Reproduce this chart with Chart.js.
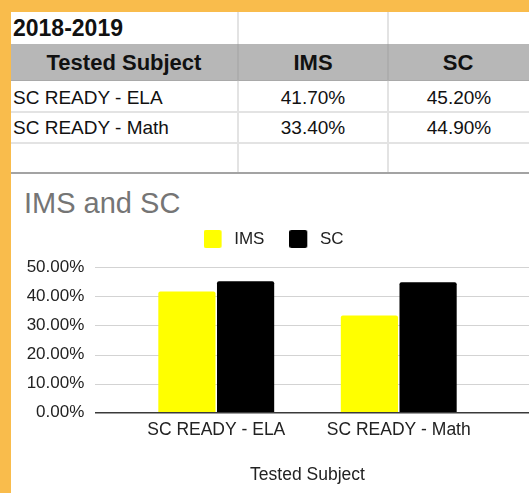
<!DOCTYPE html>
<html><head><meta charset="utf-8">
<script src="https://cdn.jsdelivr.net/npm/chart.js@4.4.1/dist/chart.umd.min.js"></script>
<style>
html,body{margin:0;padding:0;}
body{width:529px;height:493px;background:#F9BC4C;position:relative;overflow:hidden;font-family:"Liberation Sans",Arial,sans-serif;}
#sheet{position:absolute;left:11px;top:12px;width:518px;height:481px;background:#fff;overflow:hidden;}
.b{position:absolute;}
.t{position:absolute;white-space:nowrap;color:#111;}
#title{position:absolute;left:13px;top:177px;font-size:29px;line-height:29px;color:#757575;white-space:nowrap;}
#chart{position:absolute;left:0;top:162px;}
</style>
</head><body>
<div id="sheet">
  <div id="title"></div>
  <canvas id="chart" width="518" height="319"></canvas>
</div>
<script>
// ---- data ----
const tableTitle = '2018-2019';
const tableHeader = ['Tested Subject', 'IMS', 'SC'];
const categories = ['SC READY - ELA', 'SC READY - Math'];
const seriesNames = ['IMS', 'SC'];
const seriesColors = ['#ffff00', '#000000'];
const imsValues = [41.7, 33.4];
const scValues = [45.2, 44.9];
const yTicks = [0, 10, 20, 30, 40, 50];
const chartTitle = 'IMS and SC';
const xAxisTitle = 'Tested Subject';

const FONT = "'Liberation Sans', Arial, sans-serif";
const fmt = v => Number(v).toFixed(2) + '%';

// ---- spreadsheet table (coords relative to #sheet) ----
const sheet = document.getElementById('sheet');
function box(x, y, w, h, color) {
  const d = document.createElement('div'); d.className = 'b';
  Object.assign(d.style, {left: x + 'px', top: y + 'px', width: w + 'px', height: h + 'px', background: color});
  sheet.appendChild(d);
}
function text(str, x, w, cy, size, bold, align) {
  const d = document.createElement('div'); d.className = 't';
  const lh = 30;
  Object.assign(d.style, {left: x + 'px', width: w + 'px', top: (cy - lh / 2) + 'px', lineHeight: lh + 'px',
    fontSize: size + 'px', fontWeight: bold ? 'bold' : 'normal', textAlign: align});
  d.textContent = str;
  sheet.appendChild(d);
}
const colX = [0, 228, 378, 518];
const gridC = '#e3e3e3';
box(0, 31.5, 518, 37.5, '#b7b7b7');
box(0, 99, 518, 2, gridC);
box(0, 130, 518, 2, gridC);
box(0, 68, 518, 1, '#a9a9a9');
box(0, 160, 518, 2, '#a3a3a3');
box(226, 0, 2, 31.5, gridC); box(376, 0, 2, 31.5, gridC);
box(226, 31.5, 2, 37.5, '#adadad'); box(376, 31.5, 2, 37.5, '#adadad');
box(226, 69, 2, 91, gridC); box(376, 69, 2, 91, gridC);

text(tableTitle, 2, 220, 16.3, 23, true, 'left');
tableHeader.forEach((h, i) => text(h, colX[i], (i === 0 ? 226 : colX[i + 1] - colX[i] - 2), 51.3, 22, true, 'center'));
const rowCy = [85.7, 116.3];
categories.forEach((c, r) => {
  text(c, 2, 220, rowCy[r], 19, false, 'left');
  text(fmt(imsValues[r]), colX[1], 148, rowCy[r], 19, false, 'center');
  text(fmt(scValues[r]), colX[2], 140, rowCy[r], 19, false, 'center');
});
document.getElementById('title').textContent = chartTitle;

// ---- legend markers: 18px square on the left of a 22px-wide swatch ----
function marker(color) {
  const c = document.createElement('canvas'); c.width = 22; c.height = 18;
  const g = c.getContext('2d');
  g.fillStyle = color;
  g.beginPath();
  if (g.roundRect) g.roundRect(0, 0, 18, 18, 2); else g.rect(0, 0, 18, 18);
  g.fill();
  return c;
}
const markers = seriesColors.map(marker);

// ---- chart ----
Chart.defaults.font.family = FONT;
const gridPlugin = {
  id: 'sheetGrid',
  beforeDatasetsDraw(chart) {
    const {ctx, chartArea, scales: {y}} = chart;
    const x0 = chartArea.left - 30;
    ctx.save();
    ctx.strokeStyle = '#d3d3d3'; ctx.lineWidth = 1;
    yTicks.forEach(v => {
      if (v === 0) return;
      const py = Math.round(y.getPixelForValue(v)) + 0.5;
      ctx.beginPath(); ctx.moveTo(x0, py); ctx.lineTo(chart.width, py); ctx.stroke();
    });
    ctx.restore();
  },
  afterDatasetsDraw(chart) {
    const {ctx, chartArea, scales: {y}} = chart;
    const x0 = chartArea.left - 30;
    const py = y.getPixelForValue(0);
    ctx.save();
    ctx.strokeStyle = '#3a3a3a'; ctx.lineWidth = 1.6;
    ctx.beginPath(); ctx.moveTo(x0, py); ctx.lineTo(chart.width, py); ctx.stroke();
    ctx.restore();
  }
};

new Chart(document.getElementById('chart'), {
  type: 'bar',
  data: {
    labels: categories,
    datasets: [
      {label: seriesNames[0], data: imsValues, backgroundColor: seriesColors[0], borderRadius: 2,
       categoryPercentage: 0.643, barPercentage: 0.975},
      {label: seriesNames[1], data: scValues, backgroundColor: seriesColors[1], borderRadius: 2,
       categoryPercentage: 0.643, barPercentage: 0.975}
    ]
  },
  options: {
    responsive: false, animation: false, devicePixelRatio: 1,
    layout: {padding: {left: 7, right: 0, top: 31.8, bottom: 0}},
    plugins: {
      legend: {
        position: 'top',
        labels: {
          usePointStyle: true, pointStyleWidth: 22.3, boxHeight: 17, padding: 24.7, color: '#222', font: {size: 17},
          generateLabels(chart) {
            return Chart.defaults.plugins.legend.labels.generateLabels(chart)
              .map((it, i) => Object.assign(it, {pointStyle: markers[i]}));
          }
        }
      },
      tooltip: {enabled: false}
    },
    scales: {
      x: {
        grid: {display: false, drawTicks: false}, border: {display: false},
        ticks: {padding: 6.8, color: '#222', font: {size: 17.5}},
        title: {display: true, text: xAxisTitle, color: '#222', font: {size: 17.5}, padding: {top: 0, bottom: 7.5}},
        afterFit(s) { s.height = 80.3; }
      },
      xTop: {
        type: 'category', position: 'top', display: true,
        grid: {display: false, drawTicks: false}, border: {display: false}, ticks: {display: false},
        afterFit(s) { s.height = 9.8; }
      },
      y: {
        min: yTicks[0], max: yTicks[yTicks.length - 1],
        afterBuildTicks(s) { s.ticks = yTicks.map(v => ({value: v})); },
        grid: {display: false, drawTicks: false}, border: {display: false},
        ticks: {padding: 40.7, color: '#222', font: {size: 17}, callback: v => fmt(v)},
        afterFit(s) { s.width = 107; }
      },
      yRight: {
        type: 'linear', position: 'right', display: true,
        grid: {display: false, drawTicks: false}, border: {display: false}, ticks: {display: false},
        afterFit(s) { s.width = 39; }
      }
    }
  },
  plugins: [gridPlugin]
});
</script>
</body></html>
